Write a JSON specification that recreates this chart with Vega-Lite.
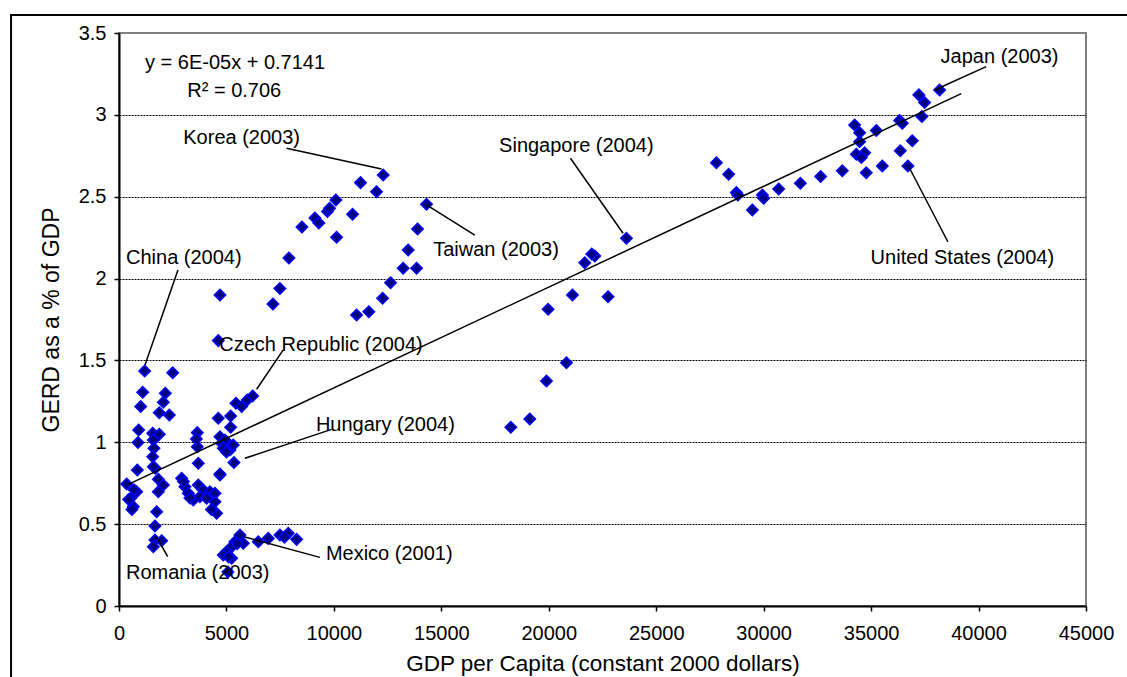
{
  "$schema": "https://vega.github.io/schema/vega-lite/v6.json",
  "width": 967,
  "height": 573,
  "autosize": "none",
  "padding": {"left": 119, "top": 33, "right": 41, "bottom": 71},
  "background": "white",
  "config": {
    "font": "Liberation Sans",
    "view": {"stroke": "#808080", "strokeWidth": 2},
    "axis": {"labelFont": "Liberation Sans", "titleFont": "Liberation Sans", "labelColor": "black", "titleColor": "black", "titleFontWeight": "normal", "domainColor": "black", "domainWidth": 2, "tickColor": "black", "tickWidth": 1.5, "tickSize": 5, "labelFontSize": 20, "titleFontSize": 22.5, "labelFlush": false, "labelOverlap": false}
  },
  "datasets": {
    "points": [
      {"x":1195,"y":1.436},{"x":2497,"y":1.425},{"x":1102,"y":1.305},{"x":2155,"y":1.30},{"x":1009,"y":1.218},{"x":2062,"y":1.244},{"x":1876,"y":1.181},{"x":2341,"y":1.167},{"x":915,"y":1.075},{"x":884,"y":0.998},{"x":1567,"y":1.055},{"x":1876,"y":1.049},{"x":1597,"y":1.014},{"x":1628,"y":0.963},{"x":1567,"y":0.912},{"x":1690,"y":0.841},{"x":1597,"y":0.85},{"x":853,"y":0.831},{"x":357,"y":0.745},{"x":822,"y":0.698},{"x":543,"y":0.658},{"x":667,"y":0.607},{"x":1829,"y":0.774},{"x":2062,"y":0.739},{"x":1829,"y":0.698},{"x":1752,"y":0.576},{"x":1674,"y":0.489},{"x":1674,"y":0.403},{"x":1985,"y":0.399},{"x":1597,"y":0.362},{"x":450,"y":0.65},{"x":600,"y":0.59},{"x":700,"y":0.71},
      {"x":2915,"y":0.78},{"x":3070,"y":0.729},{"x":3225,"y":0.688},{"x":3457,"y":0.648},{"x":3690,"y":0.739},{"x":3922,"y":0.709},{"x":4233,"y":0.698},{"x":3767,"y":0.668},{"x":4078,"y":0.658},{"x":4465,"y":0.688},{"x":4465,"y":0.637},{"x":4543,"y":0.566},{"x":4698,"y":0.80},{"x":3000,"y":0.76},{"x":3300,"y":0.66},{"x":4300,"y":0.59},
      {"x":3643,"y":1.059},{"x":3643,"y":0.973},{"x":3690,"y":0.872},{"x":4620,"y":1.147},{"x":4698,"y":1.034},{"x":4775,"y":0.994},{"x":4930,"y":1.014},{"x":5195,"y":1.161},{"x":5195,"y":1.092},{"x":5163,"y":0.953},{"x":5316,"y":0.984},{"x":5349,"y":0.876},{"x":5442,"y":1.238},{"x":5707,"y":1.218},{"x":5967,"y":1.258},{"x":6219,"y":1.283},{"x":4620,"y":1.621},{"x":4698,"y":1.90},{"x":4853,"y":0.963},{"x":4698,"y":0.806},{"x":5000,"y":0.94},{"x":3600,"y":1.02},
      {"x":5628,"y":0.434},{"x":5395,"y":0.393},{"x":5242,"y":0.362},{"x":5009,"y":0.332},{"x":4853,"y":0.312},{"x":5242,"y":0.291},{"x":5100,"y":0.30},{"x":5783,"y":0.383},{"x":6481,"y":0.393},{"x":6946,"y":0.413},{"x":7488,"y":0.434},{"x":7876,"y":0.444},{"x":8265,"y":0.407},{"x":5070,"y":0.208},{"x":7700,"y":0.42},{"x":5500,"y":0.38},
      {"x":7163,"y":1.845},{"x":7488,"y":1.94},{"x":7907,"y":2.126},{"x":8512,"y":2.315},{"x":9116,"y":2.37},{"x":9300,"y":2.34},{"x":9700,"y":2.41},{"x":9800,"y":2.43},{"x":10093,"y":2.48},{"x":10125,"y":2.252},{"x":10869,"y":2.393},{"x":11240,"y":2.586},{"x":11985,"y":2.531},{"x":12295,"y":2.633},
      {"x":14311,"y":2.454},{"x":13893,"y":2.303},{"x":13456,"y":2.175},{"x":13223,"y":2.063},{"x":13847,"y":2.063},{"x":12637,"y":1.975},{"x":12265,"y":1.88},{"x":11628,"y":1.798},{"x":11056,"y":1.778},
      {"x":23614,"y":2.246},{"x":22140,"y":2.138},{"x":21674,"y":2.097},{"x":21102,"y":1.90},{"x":22758,"y":1.889},{"x":19969,"y":1.812},{"x":20823,"y":1.486},{"x":19893,"y":1.374},{"x":19116,"y":1.142},{"x":18233,"y":1.092},{"x":22000,"y":2.15},
      {"x":27800,"y":2.708},{"x":28372,"y":2.637},{"x":28730,"y":2.525},{"x":29474,"y":2.419},{"x":29940,"y":2.511},{"x":30698,"y":2.547},{"x":31707,"y":2.582},{"x":32651,"y":2.623},{"x":33660,"y":2.659},{"x":34233,"y":2.938},{"x":34465,"y":2.891},{"x":35242,"y":2.904},{"x":34465,"y":2.836},{"x":34312,"y":2.759},{"x":34698,"y":2.769},{"x":34544,"y":2.739},{"x":34775,"y":2.647},{"x":35521,"y":2.688},{"x":36358,"y":2.781},{"x":36712,"y":2.688},{"x":36916,"y":2.842},{"x":36326,"y":2.965},{"x":36451,"y":2.949},{"x":37363,"y":2.99},{"x":37223,"y":3.122},{"x":37488,"y":3.075},{"x":38186,"y":3.152},{"x":30000,"y":2.49},{"x":28800,"y":2.51}
    ],
    "trend": [{"x":433,"y":0.743},{"x":39195,"y":3.130}],
    "leaders": [
      {"x":7800,"y":2.796,"x2":12219,"y2":2.669},
      {"x":14311,"y":2.45,"x2":16558,"y2":2.266},
      {"x":21009,"y":2.735,"x2":23457,"y2":2.277},
      {"x":40357,"y":3.295,"x2":37953,"y2":3.152},
      {"x":36791,"y":2.674,"x2":38572,"y2":2.225},
      {"x":2744,"y":2.053,"x2":1209,"y2":1.472},
      {"x":7642,"y":1.564,"x2":6405,"y2":1.324},
      {"x":9893,"y":1.079,"x2":5860,"y2":0.902},
      {"x":5814,"y":0.423,"x2":9349,"y2":0.297},
      {"x":1753,"y":0.42,"x2":2265,"y2":0.301}
    ],
    "labels": [
      {"x":1209,"y":3.315,"label":"y = 6E-05x + 0.7141"},
      {"x":3177,"y":3.146,"label":"R² = 0.706"},
      {"x":2991,"y":2.857,"label":"Korea (2003)"},
      {"x":14620,"y":2.175,"label":"Taiwan (2003)"},
      {"x":17688,"y":2.81,"label":"Singapore (2004)"},
      {"x":38233,"y":3.356,"label":"Japan (2003)"},
      {"x":34977,"y":2.124,"label":"United States (2004)"},
      {"x":326,"y":2.126,"label":"China (2004)"},
      {"x":4665,"y":1.594,"label":"Czech Republic (2004)"},
      {"x":9163,"y":1.106,"label":"Hungary (2004)"},
      {"x":9628,"y":0.318,"label":"Mexico (2001)"},
      {"x":326,"y":0.204,"label":"Romania (2003)"}
    ]
  },
  "layer": [
    {
      "data": {"name": "points"},
      "mark": {"type": "point", "shape": "diamond", "filled": true, "fill": "#000080", "stroke": "#0000FF", "strokeWidth": 1.5, "size": 130, "opacity": 1},
      "encoding": {
        "x": {"field": "x", "type": "quantitative", "title": "GDP per Capita (constant 2000 dollars)",
              "scale": {"domain": [0, 45000], "nice": false, "zero": false},
              "axis": {"values": [0,5000,10000,15000,20000,25000,30000,35000,40000,45000], "format": "d", "grid": false, "labelPadding": 12, "titlePadding": 9}},
        "y": {"field": "y", "type": "quantitative", "title": "GERD as a % of GDP",
              "scale": {"domain": [0, 3.5], "nice": false, "zero": false},
              "axis": {"values": [0,0.5,1,1.5,2,2.5,3,3.5], "format": "~g", "grid": true, "gridColor": "black", "gridDash": [2,1], "gridWidth": 1,
                       "gridOpacity": {"condition": {"test": "datum.value >= 3.5 || datum.value <= 0", "value": 0}, "value": 1},
                       "labelPadding": 8, "titlePadding": 15, "titleFontSize": 23}}
      }
    },
    {
      "data": {"name": "trend"},
      "mark": {"type": "line", "color": "black", "strokeWidth": 1.5},
      "encoding": {
        "x": {"field": "x", "type": "quantitative"},
        "y": {"field": "y", "type": "quantitative"}
      }
    },
    {
      "data": {"name": "leaders"},
      "mark": {"type": "rule", "color": "black", "strokeWidth": 1.5},
      "encoding": {
        "x": {"field": "x", "type": "quantitative"},
        "y": {"field": "y", "type": "quantitative"},
        "x2": {"field": "x2"},
        "y2": {"field": "y2"}
      }
    },
    {
      "data": {"name": "labels"},
      "mark": {"type": "text", "align": "left", "baseline": "middle", "fontSize": 20, "font": "Liberation Sans", "color": "black"},
      "encoding": {
        "x": {"field": "x", "type": "quantitative"},
        "y": {"field": "y", "type": "quantitative"},
        "text": {"field": "label"}
      }
    },
    {
      "data": {"values": [{}]},
      "mark": {"type": "rect", "fill": "white", "fillOpacity": 0, "stroke": "black", "strokeWidth": 2, "clip": false},
      "encoding": {
        "x": {"datum": -5023, "type": "quantitative"},
        "x2": {"datum": 47500},
        "y": {"datum": 3.610, "type": "quantitative"},
        "y2": {"datum": -0.6}
      }
    }
  ]
}
